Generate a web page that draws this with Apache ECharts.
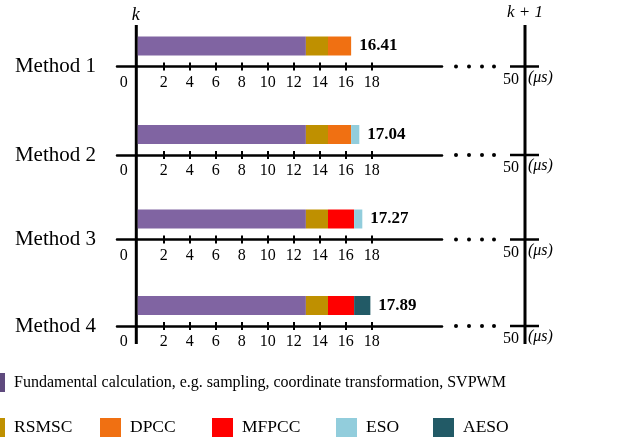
<!DOCTYPE html>
<html>
<head>
<meta charset="utf-8">
<script src="https://cdn.jsdelivr.net/npm/echarts@6/dist/echarts.min.js"></script>
<style>
  html, body { margin: 0; padding: 0; background: #fff; }
  #chart { width: 641px; height: 441px; }
</style>
</head>
<body>
<div id="chart"></div>
<script>
// Execution-time breakdown per control period (µs)
const methods = ['Method 1', 'Method 2', 'Method 3', 'Method 4'];
const fundamentalName = 'Fundamental calculation, e.g. sampling, coordinate transformation, SVPWM';
const fundamental = [12.93, 12.93, 12.93, 12.93];
const rsmsc       = [1.70, 1.70, 1.70, 1.70];
// third segment: DPCC for methods 1-2, MFPCC for methods 3-4
const predictive  = [1.78, 1.78, 2.01, 2.01];
const predictiveNames = ['DPCC', 'DPCC', 'MFPCC', 'MFPCC'];
// fourth segment: none / ESO / ESO / AESO
const observer    = [0, 0.63, 0.63, 1.25];
const observerNames = [null, 'ESO', 'ESO', 'AESO'];
const totals      = [16.41, 17.04, 17.27, 17.89];
const tickValues  = [2, 4, 6, 8, 10, 12, 14, 16, 18];
const labelValues = [0, 2, 4, 6, 8, 10, 12, 14, 16, 18];
const periodLabel = '50';

const colors = {
  [fundamentalName]: '#8064A2',
  RSMSC: '#BF9000',
  DPCC: '#F07012',
  MFPCC: '#FF0000',
  ESO: '#92CDDC',
  AESO: '#225A66'
};

const serif = '"Liberation Serif", "DejaVu Serif", serif';
const axisY = [66.5, 155, 239.5, 326];   // baseline of each method's time axis
const gridLeft = 117, gridWidth = 325, gridH = 41;
const xMin = -1.6, xMax = 23.4;

const grids = [], xAxes = [], yAxes = [], series = [];

methods.forEach((m, i) => {
  grids.push({ left: gridLeft, width: gridWidth, top: axisY[i] - gridH, height: gridH });
  const base = {
    type: 'value', gridIndex: i, min: xMin, max: xMax, position: 'bottom',
    splitLine: { show: false }
  };
  xAxes.push(Object.assign({}, base, {
    name: m,
    nameLocation: 'start',
    nameGap: 21,
    nameTextStyle: { fontFamily: serif, fontSize: 21, color: '#000', padding: [10, 0, 0, 0] },
    axisLine: { show: true, lineStyle: { color: '#000', width: 2.5 } },
    axisTick: { show: true, customValues: tickValues, length: 4, lineStyle: { color: '#000', width: 2 } },
    axisLabel: {
      show: true, customValues: labelValues, margin: 8,
      fontFamily: serif, fontSize: 16, color: '#000',
      formatter: v => v === 0 ? '{z|0}' : String(v),
      rich: { z: { fontFamily: serif, fontSize: 16, color: '#000', padding: [0, 28, 0, 0] } }
    }
  }));
  // mirrored ticks so the marks cross the axis line
  xAxes.push(Object.assign({}, base, {
    axisLine: { show: false },
    axisTick: { show: true, inside: true, customValues: tickValues, length: 4, lineStyle: { color: '#000', width: 2 } },
    axisLabel: { show: false }
  }));
  yAxes.push({
    type: 'category', gridIndex: i, data: [m],
    axisLine: { show: false }, axisTick: { show: false }, axisLabel: { show: false }
  });

  const segs = [
    [fundamentalName, fundamental[i]],
    ['RSMSC', rsmsc[i]],
    [predictiveNames[i], predictive[i]]
  ];
  if (observerNames[i]) segs.push([observerNames[i], observer[i]]);
  segs.forEach((s, k) => {
    const last = k === segs.length - 1;
    series.push({
      type: 'bar', name: s[0], xAxisIndex: i * 2, yAxisIndex: i,
      stack: 'm' + i, barWidth: 19, data: [s[1]],
      itemStyle: { color: colors[s[0]] },
      label: last ? {
        show: true, position: 'right', distance: 8,
        formatter: () => totals[i].toFixed(2),
        fontFamily: serif, fontSize: 17, fontWeight: 'bold', color: '#000'
      } : { show: false },
      emphasis: { disabled: true }
    });
  });
});

function legendBox(name, left, top, fontSize, iconColor) {
  const item = iconColor ? { name, itemStyle: { color: iconColor } } : { name };
  return {
    data: [item], left, top, orient: 'horizontal', padding: 0,
    icon: 'rect', itemWidth: 21, itemHeight: 19, selectedMode: false,
    textStyle: { fontFamily: serif, fontSize, color: '#000', padding: [0, 0, 0, 4] }
  };
}

const legends = [
  legendBox(fundamentalName, -16, 373, 16, '#5F4A7E'),
  legendBox('RSMSC', -16, 418, 17.5),
  legendBox('DPCC', 100, 418, 17.5),
  legendBox('MFPCC', 212, 418, 17.5),
  legendBox('ESO', 336, 418, 17.5),
  legendBox('AESO', 433, 418, 17.5)
];

const chart = echarts.init(document.getElementById('chart'), null, { renderer: 'canvas' });
chart.setOption({
  animation: false,
  backgroundColor: '#fff',
  grid: grids, xAxis: xAxes, yAxis: yAxes, series, legend: legends
});

// Period boundaries k and k+1, plus the broken-axis marks up to 50 µs
const x0 = chart.convertToPixel({ xAxisIndex: 0 }, 0);
const axisEnd = gridLeft + gridWidth;
const kx1 = axisEnd + 83;
const lineTop = 25, lineBottom = 344;
const g = [];
g.push({ type: 'line', shape: { x1: x0 - 1.5, y1: lineTop, x2: x0 - 1.5, y2: lineBottom }, style: { stroke: '#000', lineWidth: 3 } });
g.push({ type: 'line', shape: { x1: kx1, y1: lineTop, x2: kx1, y2: lineBottom }, style: { stroke: '#000', lineWidth: 3 } });
g.push({ type: 'text', x: x0 - 2, y: 15, style: { text: 'k', fontFamily: serif, fontStyle: 'italic', fontSize: 18, fill: '#000', align: 'center', verticalAlign: 'middle' } });
g.push({ type: 'text', x: kx1, y: 13, style: { text: 'k + 1', fontFamily: serif, fontStyle: 'italic', fontSize: 17, fill: '#000', align: 'center', verticalAlign: 'middle' } });
axisY.forEach(y => {
  [14, 27, 40, 52].forEach(dx => {
    g.push({ type: 'circle', shape: { cx: axisEnd + dx, cy: y, r: 2 }, style: { fill: '#000' } });
  });
  g.push({ type: 'line', shape: { x1: kx1 - 15, y1: y, x2: kx1 + 14, y2: y }, style: { stroke: '#000', lineWidth: 2.5 } });
  g.push({ type: 'text', x: kx1 - 6, y: y + 13, style: { text: periodLabel, fontFamily: serif, fontSize: 16, fill: '#000', align: 'right', verticalAlign: 'middle' } });
  g.push({ type: 'text', x: kx1 + 3, y: y + 11, style: { text: '(μs)', fontFamily: serif, fontStyle: 'italic', fontSize: 16, fill: '#000', align: 'left', verticalAlign: 'middle' } });
});
chart.setOption({ graphic: g });
</script>
</body>
</html>
